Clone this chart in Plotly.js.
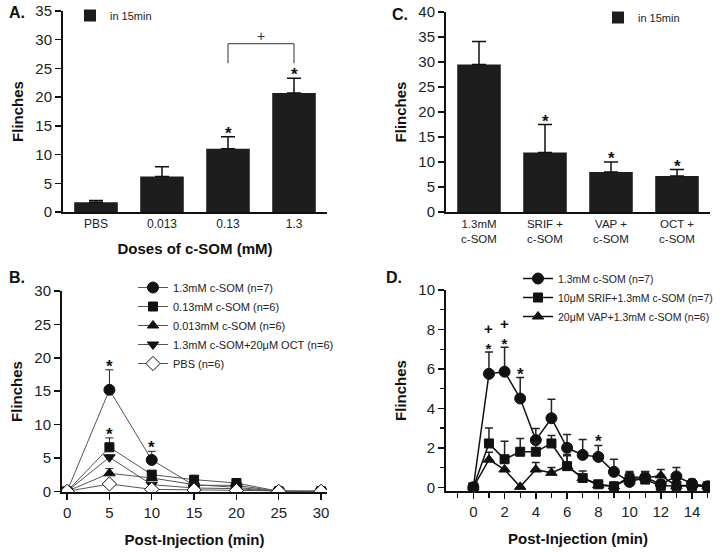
<!DOCTYPE html>
<html><head><meta charset="utf-8">
<script src="https://cdn.plot.ly/plotly-3.0.1.min.js"></script>
<style>html,body{margin:0;padding:0;background:#fff}#chart{width:720px;height:552px}</style>
</head><body><div id="chart"></div>
<script>
// Panel A: doses of c-SOM
const doseCats = ['PBS', '0.013', '0.13', '1.3'];
const doseMeans = [1.7, 6.2, 11.0, 20.7];
const doseErr = [0.3, 1.7, 2.1, 2.6];
const doseStars = [2, 3];

// Panel C: antagonists
const antagCats = ['1.3mM<br>c-SOM', 'SRIF +<br>c-SOM', 'VAP +<br>c-SOM', 'OCT +<br>c-SOM'];
const antagMeans = [29.5, 11.9, 8.0, 7.2];
const antagErr = [4.6, 5.6, 2.0, 1.3];
const antagStars = [1, 2, 3];

// Panel B: time course (5-min bins)
const timeB = [0, 5, 10, 15, 20, 25, 30];
const b13 = [0, 15.2, 4.7, 0.9, 0.9, 0, 0];
const b13Err = [0, 3.0, 1.3, 0, 0, 0, 0];
const b013 = [0, 6.6, 2.5, 1.75, 1.25, 0, 0];
const b013Err = [0, 1.4, 0.5, 0, 0, 0, 0];
const b0013 = [0, 2.7, 2.0, 1.0, 0.6, 0, 0];
const b0013Err = [0, 0.7, 0, 0, 0, 0, 0];
const bOct = [0, 5.1, 1.0, 0.5, 0.4, 0, 0];
const bPbs = [0, 1.1, 0.3, 0.2, 0.1, 0, 0];
const bStars13 = [1, 2];
const bStars013 = [1];

// Panel D: time course (1-min bins)
const timeD = [0, 1, 2, 3, 4, 5, 6, 7, 8, 9, 10, 11, 12, 13, 14, 15];
const d13 = [0, 5.75, 5.86, 4.5, 2.39, 3.5, 2.0, 1.64, 1.54, 0.78, 0.27, 0.5, 0.15, 0.55, 0.18, 0.05];
const d13Err = [0, 1.11, 1.24, 1.06, 0.59, 0.96, 0.68, 0.78, 0.58, 0.64, 0.46, 0.3, 0.2, 0.45, 0.22, 0.05];
const dSrif = [0, 2.22, 1.42, 1.8, 1.8, 2.22, 1.07, 0.47, 0.15, 0.05, 0.44, 0.39, 0.07, 0.07, 0.07, 0.05];
const dSrifErr = [0, 0.78, 0.91, 0.67, 0.5, 0.4, 0.59, 0.36, 0.17, 0, 0.26, 0.39, 0.1, 0.1, 0.1, 0];
const dVap = [0, 1.4, 0.9, 0.02, 0.9, 0.73, 1.08, 0.47, 0.1, 0.05, 0.55, 0.47, 0.6, 0.07, 0.1, 0.05];
const dVapErr = [0, 0.38, 0, 0, 0.35, 0.27, 0.52, 0.2, 0, 0, 0.25, 0.3, 0.3, 0, 0, 0];
const dStarsOnly = [3, 8];
const dPlusStar = [1, 2];

const FONT = 'Liberation Sans, Arial, Helvetica, sans-serif';
const zeros = n => new Array(n).fill(0);
const barColor = '#1d1d1d';

const traces = [];
traces.push({type:'bar', x: doseCats, y: doseMeans, xaxis:'x', yaxis:'y', name:'in 15min', legend:'legend3',
  marker:{color:barColor, line:{width:0}},
  error_y:{type:'data', array: doseErr, arrayminus: zeros(4), symmetric:false, color:'#111', thickness:1.5, width:7}});
traces.push({type:'bar', x: antagCats, y: antagMeans, xaxis:'x2', yaxis:'y2', name:'in 15min', legend:'legend4',
  marker:{color:barColor, line:{width:0}},
  error_y:{type:'data', array: antagErr, arrayminus: zeros(4), symmetric:false, color:'#111', thickness:1.5, width:7}});

function lineTrace(x, y, err, name, symbol, size, ax, leg, lw, lcol, mfill) {
  const t = {type:'scatter', mode:'lines+markers', x, y, xaxis:'x'+ax, yaxis:'y'+ax, name, legend: leg,
    line:{color: lcol, width: lw},
    marker:{symbol, size, color: mfill || '#111', line:{color:'#111', width: 1}}};
  if (err) t.error_y = {type:'data', array: err, arrayminus: zeros(err.length), symmetric:false, color:'#222', thickness: lw, width: 4};
  return t;
}
traces.push(lineTrace(timeB, b13, b13Err, '1.3mM c-SOM (n=7)', 'circle', 11, '3', 'legend', 1, '#555'));
traces.push(lineTrace(timeB, b013, b013Err, '0.13mM c-SOM (n=6)', 'square', 9, '3', 'legend', 1, '#555'));
traces.push(lineTrace(timeB, b0013, b0013Err, '0.013mM c-SOM (n=6)', 'triangle-up', 10, '3', 'legend', 1, '#555'));
traces.push(lineTrace(timeB, bOct, null, '1.3mM c-SOM+20μM OCT (n=6)', 'triangle-down', 10, '3', 'legend', 1, '#555'));
traces.push(lineTrace(timeB, bPbs, null, 'PBS (n=6)', 'diamond', 11, '3', 'legend', 1, '#555', '#fff'));

traces.push(lineTrace(timeD, d13, d13Err, '1.3mM c-SOM (n=7)', 'circle', 11, '4', 'legend2', 1.5, '#111'));
traces.push(lineTrace(timeD, dSrif, dSrifErr, '10μM SRIF+1.3mM c-SOM (n=7)', 'square', 9, '4', 'legend2', 1.5, '#111'));
traces.push(lineTrace(timeD, dVap, dVapErr, '20μM VAP+1.3mM c-SOM (n=6)', 'triangle-up', 10, '4', 'legend2', 1.5, '#111'));

const annotations = [];
function pl(text, x, y) {
  annotations.push({text:'<b>'+text+'</b>', xref:'paper', yref:'paper', x: x/720, y: 1 - y/552,
    xanchor:'left', yanchor:'middle', showarrow:false, font:{size:16, family:FONT, color:'#111'}});
}
pl('A.', 7, 13); pl('C.', 390, 14); pl('B.', 7, 277); pl('D.', 384, 277);

function star(xv, yv, ax, txt, shift, size) {
  annotations.push({text: txt, x: xv, y: yv, xref:'x'+ax, yref:'y'+ax, showarrow:false,
    yanchor:'bottom', yshift: shift, font:{size: size || 17, family:FONT, color:'#111'}});
}
doseStars.forEach(i => star(i, doseMeans[i] + doseErr[i], '', '<b>*</b>', -8));
antagStars.forEach(i => star(i, antagMeans[i] + antagErr[i], '2', '<b>*</b>', -8));
bStars13.forEach(i => star(timeB[i], b13[i] + b13Err[i], '3', '<b>*</b>', -8));
bStars013.forEach(i => star(timeB[i], b013[i] + b013Err[i], '3', '<b>*</b>', -8));
dStarsOnly.forEach(i => star(timeD[i], d13[i] + d13Err[i], '4', '<b>*</b>', -8));
dPlusStar.forEach(i => star(timeD[i], d13[i] + d13Err[i], '4', '<b>+</b><br><b>*</b>', -7, 15));

// significance bracket between 0.13 and 1.3 doses (category indices 2 and 3)
const topA = doseMeans[3] + doseErr[3];
const shapes = [
  {type:'line', xref:'x', yref:'y', x0: 2, x1: 2, y0: topA + 2.6, y1: topA + 6, line:{color:'#333', width:1}},
  {type:'line', xref:'x', yref:'y', x0: 3, x1: 3, y0: topA + 2.6, y1: topA + 6, line:{color:'#333', width:1}},
  {type:'line', xref:'x', yref:'y', x0: 2, x1: 3, y0: topA + 6, y1: topA + 6, line:{color:'#333', width:1}}
];
annotations.push({text:'+', x: 2.5, y: topA + 6, xref:'x', yref:'y', showarrow:false, yanchor:'bottom', yshift:-2,
  font:{size:14, family:FONT, color:'#333'}});

const tickF = s => ({size: s, family: FONT, color:'#222'});
const titleF = {size: 15, family: FONT, color:'#111', weight: 'bold'};
const yBase = {showline:true, linewidth:2, linecolor:'#111', ticks:'outside', ticklen:6, tickwidth:1.5, tickcolor:'#111',
  showgrid:false, zeroline:false, tickfont: tickF(15), automargin:false,
  title:{text:'Flinches', font: titleF, standoff: 8}};
const pd = v => v / 720;
const pv = (top, bot) => [1 - bot/552, 1 - top/552];

const layout = {
  width:720, height:552, margin:{l:0, r:0, t:0, b:0, autoexpand:false}, paper_bgcolor:'#fff', plot_bgcolor:'#fff',
  font:{family: FONT, color:'#111'}, bargap: 0.34,
  xaxis:{domain:[pd(63), pd(327)], anchor:'y', type:'category', range:[-0.5, 3.5], showline:true, linewidth:2, linecolor:'#111',
    ticks:'', showgrid:false, zeroline:false, tickfont: tickF(12), automargin:false,
    title:{text:'Doses of c-SOM (mM)', font: titleF, standoff: 13}},
  yaxis: Object.assign({}, yBase, {domain: pv(11, 212), anchor:'x', range:[0, 35], dtick:5}),
  xaxis2:{domain:[pd(446), pd(710)], anchor:'y2', type:'category', range:[-0.5, 3.5], showline:true, linewidth:2, linecolor:'#111',
    ticks:'', showgrid:false, zeroline:false, tickfont: tickF(11.5), automargin:false},
  yaxis2: Object.assign({}, yBase, {domain: pv(12, 212), anchor:'x2', range:[0, 40], dtick:5}),
  xaxis3:{domain:[pd(62), pd(327)], anchor:'y3', range:[-0.6, 30.7], dtick:5, tick0:0, showline:true, linewidth:2, linecolor:'#111',
    ticks:'outside', ticklen:6, tickwidth:1.5, tickcolor:'#111', showgrid:false, zeroline:false, tickfont: tickF(15), automargin:false,
    title:{text:'Post-Injection (min)', font: titleF, standoff: 14}},
  yaxis3: Object.assign({}, yBase, {domain: pv(291, 492), anchor:'x3', range:[-0.1, 30], dtick:5}),
  xaxis4:{domain:[pd(446), pd(710)], anchor:'y4', range:[-1.75, 15.15], dtick:2, tick0:0, showline:true, linewidth:2, linecolor:'#111',
    ticks:'outside', ticklen:6, tickwidth:1.5, tickcolor:'#111', minor:{dtick:1, tick0:0, ticks:'outside', ticklen:5, tickwidth:1.2, tickcolor:'#111'},
    showgrid:false, zeroline:false, tickfont: tickF(15), automargin:false,
    title:{text:'Post-Injection (min)', font: titleF, standoff: 14}},
  yaxis4: Object.assign({}, yBase, {domain: pv(290, 491), anchor:'x4', range:[-0.19, 10], dtick:2,
    minor:{dtick:1, ticks:'outside', ticklen:4, tickwidth:1.2, tickcolor:'#111'}}),
  legend:{x: pd(133), y: 1 - 273/552, xanchor:'left', yanchor:'top', bgcolor:'rgba(0,0,0,0)', font:{size:11, family:FONT, color:'#222'}, itemwidth:30, tracegroupgap:0},
  legend2:{x: pd(518), y: 1 - 264/552, xanchor:'left', yanchor:'top', bgcolor:'rgba(0,0,0,0)', font:{size:10.5, family:FONT, color:'#222'}, itemwidth:30},
  legend3:{x: pd(70), y: 1 - 1/552, xanchor:'left', yanchor:'top', bgcolor:'rgba(0,0,0,0)', font:{size:11, family:FONT, color:'#222'}},
  legend4:{x: pd(598), y: 1 - 3/552, xanchor:'left', yanchor:'top', bgcolor:'rgba(0,0,0,0)', font:{size:11, family:FONT, color:'#222'}},
  annotations, shapes
};

Plotly.newPlot('chart', traces, layout, {displayModeBar:false, staticPlot:true});
</script>
</body></html>
